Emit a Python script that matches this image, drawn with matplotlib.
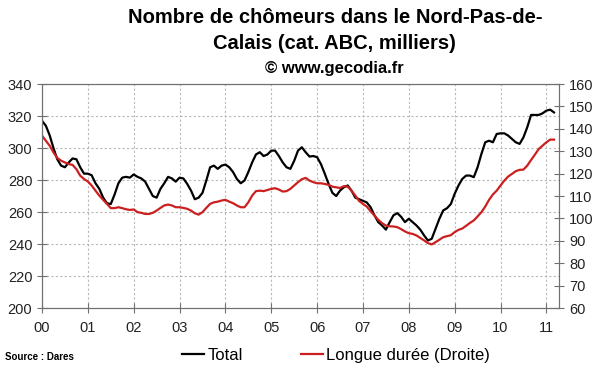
import numpy as np
import matplotlib.pyplot as plt

plt.rcParams['font.family'] = ['Liberation Sans', 'DejaVu Sans']

# Monthly data, Jan 2000 -> Mar 2011 (thousands)
total = [317, 314, 308, 300, 293, 289, 288, 291, 293.5, 293, 288, 284,
         284, 283, 278, 274.5, 269, 265.5, 265, 271, 278, 281.5, 282, 281.5,
         283.5, 282, 281, 279, 274.5, 270, 269, 274.5, 278, 282, 281, 279,
         281.5, 281, 277.6, 273.4, 268, 269, 272, 279.7, 288, 289, 287, 289,
         289.7, 288, 285, 280.7, 278, 279.7, 285, 291, 296, 297.4, 295, 296,
         298.4, 298.4, 295, 291, 288, 287, 292, 298.4, 300.5, 297.4, 294.7, 295,
         294.3, 290, 284, 277.6, 272, 270, 273.4, 275.5, 276.6, 273.4, 269, 268,
         267, 266, 263, 258, 253.7, 251.6, 249, 253.7, 258, 259.3, 257, 253.7,
         255.8, 253.7, 251.6, 249, 245.4, 242.2, 243.3, 249.5, 255.8, 261, 262.4, 265,
         271.4, 276.6, 280.7, 282.8, 282.8, 281.8, 288, 296.3, 303.6, 304.6, 303.6, 308.8,
         309.2, 309.2, 307.8, 305.7, 303.6, 302.6, 306.7, 313, 320.7, 320.7, 320.7, 321.7,
         323.4, 324, 322.3]

longue = [137, 134.7, 132.5, 129.5, 127, 125.8, 125, 124.3, 123.9, 122, 119.1, 117.6,
          116.5, 114.7, 112.4, 110.2, 108.3, 106.5, 104.6, 104.6, 105, 104.6, 104.1, 103.8,
          104, 102.8, 102.5, 102, 102, 102.5, 103.5, 104.7, 105.8, 106.2, 105.8, 105,
          105, 104.7, 104.3, 103.5, 102.3, 101.7, 102.8, 104.7, 106.5, 107.2, 107.5, 108,
          108.3, 107.5, 106.8, 105.8, 105, 105, 107.2, 110.2, 112.2, 112.4, 112.2, 112.7,
          113.2, 113.5, 112.9, 112, 112.2, 113.2, 114.7, 116.2, 117.5, 118.1, 116.9, 116.2,
          115.7, 115.7, 115.4, 115, 114.2, 113.9, 113.6, 114.4, 114.2, 112.4, 110.2, 107.8,
          106.5, 105.3, 103.2, 101.3, 99.4, 97.9, 96.8, 96.5, 96.4, 96.1, 95.2, 94.2,
          93.4, 93.1, 92.4, 91.3, 90.2, 89, 88.4, 89.4, 90.5, 91.6, 92.1, 92.5,
          93.9, 94.9, 95.5, 96.7, 98, 99.1, 100.9, 102.8, 105.3, 108.3, 110.7, 112.4,
          114.7, 116.9, 118.7, 119.9, 121.1, 121.7, 121.8, 123.6, 126.1, 128.5, 131, 132.5,
          134, 135.2, 135.2]

year_labels = ['00', '01', '02', '03', '04', '05', '06', '07', '08', '09', '10', '11']

t = 2000 + np.arange(len(total)) / 12.0

fig = plt.figure(figsize=(6, 3.72), dpi=100)
ax = fig.add_axes([0.07, 0.172, 0.862, 0.602])
ax2 = ax.twinx()

l1, = ax.plot(t, total, color='black', lw=1.6)
l2, = ax2.plot(t, longue, color='#cc2020', lw=1.6)

ax.set_xlim(2000, 2011.28)
ax.set_ylim(200, 340)
ax2.set_ylim(60, 160)
ax.set_xticks(np.arange(2000, 2012))
ax.set_xticklabels(year_labels)
ax.set_yticks(np.arange(200, 341, 20))
ax2.set_yticks(np.arange(60, 161, 10))

ax.grid(True, color='#b8b8b8', linestyle=(0, (2, 2)), linewidth=0.8)
ax.set_axisbelow(True)

for a in (ax, ax2):
    for s in a.spines.values():
        s.set_color('#707070')
    a.tick_params(direction='inout', length=7, color='#707070', labelsize=10.5,
                  labelcolor='#222222')
ax.tick_params(axis='x', pad=6)

# title, three lines
fig.text(0.558, 0.952, 'Nombre de chômeurs dans le Nord-Pas-de-', ha='center',
         va='center', fontsize=14.5, fontweight='bold')
fig.text(0.558, 0.884, 'Calais (cat. ABC, milliers)', ha='center',
         va='center', fontsize=14.5, fontweight='bold')
fig.text(0.558, 0.817, '© www.gecodia.fr', ha='center', va='center',
         fontsize=12, fontweight='bold')
fig.text(0.008, 0.04, 'Source : Dares', ha='left', va='center', fontsize=7,
         fontweight='bold')

fig.legend([l1, l2], ['Total', 'Longue durée (Droite)'], loc='center',
           bbox_to_anchor=(0.56, 0.045), ncol=2, frameon=False, fontsize=12,
           handlelength=1.3, handletextpad=0.2, columnspacing=3.5)

fig.savefig('out.png', dpi=100)
